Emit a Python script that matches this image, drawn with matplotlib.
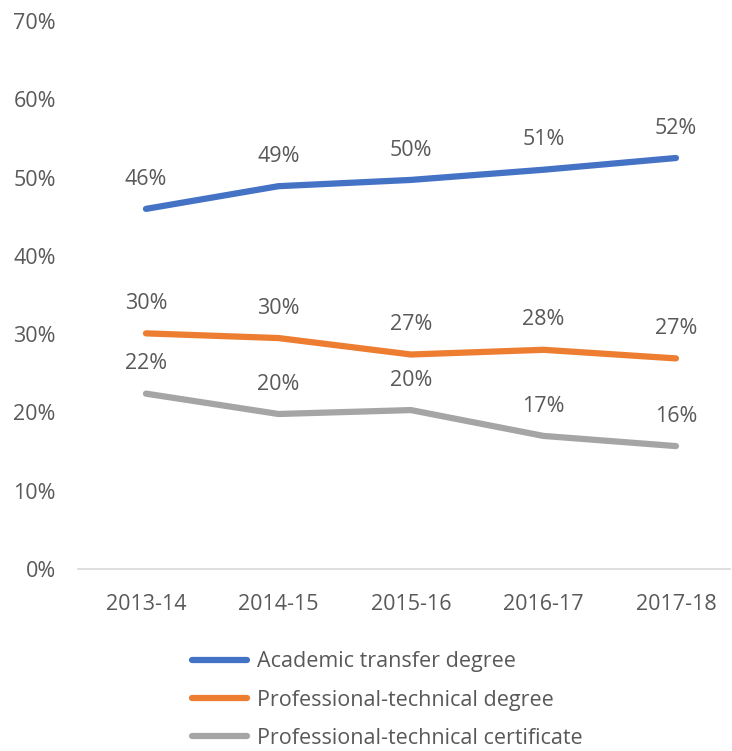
import numpy as np
import matplotlib.pyplot as plt
from matplotlib.ticker import PercentFormatter

years = ['2013-14', '2014-15', '2015-16', '2016-17', '2017-18']
academic = [46.0, 48.9, 49.7, 51.0, 52.5]
prof_degree = [30.1, 29.5, 27.4, 28.0, 26.9]
prof_cert = [22.4, 19.8, 20.3, 17.0, 15.7]

series = [
    ('Academic transfer degree', academic, '#4472C4'),
    ('Professional-technical degree', prof_degree, '#ED7D31'),
    ('Professional-technical certificate', prof_cert, '#A5A5A5'),
]

plt.rcParams['font.family'] = ['Open Sans', 'DejaVu Sans']
text_color = '#595959'
fs = 15.5

fig = plt.figure(figsize=(7.32, 7.51), dpi=100)
ax = fig.add_axes([78 / 732, (751 - 569) / 751, (730 - 78) / 732, (569 - 21) / 751])

x = np.arange(len(years))
for name, vals, color in series:
    ax.plot(x, vals, color=color, lw=4.5, label=name, solid_capstyle='round')
    for xi, v in zip(x, vals):
        ax.annotate(f'{v:.0f}%', (xi, v), xytext=(0, 21.5), textcoords='offset points',
                    ha='center', va='center', fontsize=fs, color=text_color)

ax.set_xlim(-0.513, 4.408)
ax.set_ylim(0, 70)
ax.set_yticks(np.arange(0, 71, 10))
ax.yaxis.set_major_formatter(PercentFormatter(decimals=0))
ax.set_xticks(x)
ax.set_xticklabels(years)
ax.tick_params(axis='both', length=0, labelsize=fs, colors=text_color)
ax.tick_params(axis='y', pad=16)
ax.tick_params(axis='x', pad=18)
for s in ['top', 'right', 'left']:
    ax.spines[s].set_visible(False)
ax.spines['bottom'].set_color('#D9D9D9')
ax.spines['bottom'].set_linewidth(1.2)

leg = fig.legend(loc='upper left', bbox_to_anchor=(173 / 732, 1 - 632 / 751), frameon=False,
                 fontsize=fs, handlelength=2.55, handletextpad=0.45, labelspacing=0.8)
for t in leg.get_texts():
    t.set_color(text_color)

fig.savefig('out.png', dpi=100)
